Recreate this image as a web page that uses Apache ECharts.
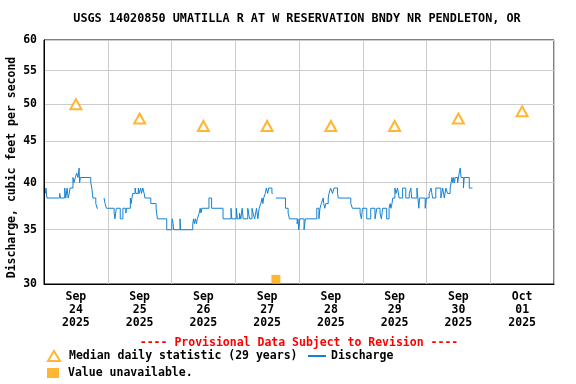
<!DOCTYPE html>
<html><head><meta charset="utf-8">
<script src="https://cdn.jsdelivr.net/npm/echarts@6/dist/echarts.min.js"></script>
<style>html,body{margin:0;padding:0;background:#fff}#c{width:576px;height:384px}</style>
</head><body><div id="c"></div>
<script>
const titleText = 'USGS 14020850 UMATILLA R AT W RESERVATION BNDY NR PENDLETON, OR';
const yAxisTitle = 'Discharge, cubic feet per second';
const provisionalText = '---- Provisional Data Subject to Revision ----';
const legendMedian = 'Median daily statistic (29 years)';
const legendDischarge = 'Discharge';
const legendUnavailable = 'Value unavailable.';

// x: hours since 2025-09-24 00:00
const dayCenters = [12, 36, 60, 84, 108, 132, 156, 180];
const dayLabels = ['Sep\n24\n2025', 'Sep\n25\n2025', 'Sep\n26\n2025', 'Sep\n27\n2025',
                   'Sep\n28\n2025', 'Sep\n29\n2025', 'Sep\n30\n2025', 'Oct\n01\n2025'];
const yTickValues = [30, 35, 40, 45, 50, 55, 60];
const medianValues = [50, 48, 47, 47, 47, 47, 48, 49];

const dischargeHours = [
  0.5, 0.75, 1.1, 5.9, 6.2, 7.8, 8.2, 8.7, 9.1, 9.5, 9.8, 10.9, 11.3, 11.8, 12.3, 12.8, 13.2, 13.4, 13.7,
  17.6, 18.0, 18.4, 19.5, 20.0, 20.3, 20.4,
  22.6, 23.0, 23.5, 26.4, 26.7, 27.0, 27.2, 28.7, 29.7, 30.8, 31.1,
  32.5, 32.8, 33.1, 33.4, 34.3, 34.6, 35.5, 35.8, 36.4, 36.7, 37.2, 37.7, 38.0,
  40.2, 42.2, 42.4, 42.7, 46.2, 48.1, 48.3, 48.6, 48.8, 51.2, 51.4,
  56.0, 56.3, 56.6, 57.0, 57.4, 57.7, 58.4, 58.8, 59.1, 59.4, 62.1, 63.1,
  67.4, 70.4, 70.7, 72.4, 72.8, 73.6, 74.1, 74.6, 75.0, 76.7, 77.4, 78.3, 78.7, 79.3, 80.0, 80.5, 81.0,
  81.6, 82.1, 82.4, 82.7, 83.3, 83.7, 84.2, 84.6, 85.8, 86.1, 86.2,
  87.3, 90.9, 91.9, 92.4, 95.3, 95.6, 95.9, 96.3, 97.9, 98.4,
  102.7, 103.5, 103.9, 104.4, 105.1, 105.3, 105.7, 106.1, 107.0, 107.3, 107.9, 108.6, 109.2, 110.5, 110.8,
  115.5, 116.1, 119.0, 119.5, 119.9, 121.5, 123.0, 124.6, 125.3, 126.5, 127.0, 127.5, 129.0, 129.9,
  130.3, 130.6, 131.0, 131.3, 132.1, 132.5, 133.1, 133.7, 135.0, 136.2, 137.5, 138.1, 138.4,
  140.4, 140.6, 141.1, 141.4, 143.5, 144.0, 145.0, 145.7, 146.3, 147.5, 149.4, 150.1, 150.7, 151.3,
  151.9, 152.9, 153.6, 153.9, 154.2, 154.5, 154.8, 155.7, 156.3, 156.7, 157.0, 157.9, 158.2, 160.1, 161.3
];
const dischargeValues = [
  38.8, 39.4, 38.3, 38.8, 38.3, 39.4, 38.3, 39.4, 38.3, 38.8, 39.4, 40.6, 40.0, 40.6, 41.1, 40.6, 41.7, 40.0, 40.6,
  40.0, 39.4, 38.3, 37.7, 37.2, 37.2, null,
  38.3, 37.7, 37.2, 36.7, 36.1, 36.7, 37.2, 36.1, 37.2, 36.7, 37.2,
  38.3, 37.7, 38.3, 38.8, 39.4, 38.8, 39.4, 38.8, 39.4, 38.8, 39.4, 38.8, 38.3,
  37.7, 37.2, 36.7, 36.1, 35.0, 35.6, 36.1, 35.6, 35.0, 36.1, 35.0,
  35.6, 36.1, 35.6, 36.1, 35.6, 36.1, 36.7, 37.2, 36.7, 37.2, 38.3, 37.2,
  36.1, 37.2, 36.1, 37.2, 36.1, 36.7, 36.1, 37.2, 36.1, 37.2, 36.1, 37.2, 36.7, 36.1, 37.2, 36.1, 37.2,
  37.7, 38.3, 37.7, 38.3, 38.8, 39.4, 38.8, 39.4, 38.8, 38.8, null,
  38.3, 37.2, 36.7, 36.1, 35.6, 36.1, 35.0, 36.1, 35.0, 36.1,
  37.2, 36.1, 37.2, 37.7, 38.3, 37.7, 37.2, 37.7, 38.3, 38.8, 39.4, 38.8, 39.4, 38.8, 38.3,
  37.7, 37.2, 36.7, 36.1, 37.2, 36.1, 37.2, 36.1, 37.2, 36.7, 36.1, 37.2, 36.1, 37.2,
  37.7, 37.2, 37.7, 38.3, 39.4, 38.8, 39.4, 38.3, 39.4, 38.3, 38.8, 39.4, 38.3,
  39.4, 38.8, 37.2, 38.3, 37.2, 38.3, 38.8, 39.4, 38.3, 39.4, 38.3, 39.4, 38.3, 39.4,
  38.8, 39.4, 40.6, 40.0, 40.6, 40.0, 40.6, 40.0, 41.1, 41.7, 40.6, 39.4, 40.6, 39.4, 39.4
];
const unavailableHours = [87.3];
const unavailableValues = [30.4];

const FONT = 'DejaVu Sans Mono';
const lg = v => Math.log10(v);
const legendText = {fontFamily: FONT, fontWeight: 'bold', fontSize: 11.5, color: '#000'};

const chart = echarts.init(document.getElementById('c'), null, {renderer: 'canvas'});
const option = {
  animation: false,
  backgroundColor: '#fff',
  title: [
    {text: titleText, left: 297, top: 13, textAlign: 'center', padding: 0,
     textStyle: {fontFamily: FONT, fontWeight: 'bold', fontSize: 11.8, color: '#000'}},
    {text: provisionalText, left: 299, top: 337, textAlign: 'center', padding: 0,
     textStyle: {fontFamily: FONT, fontWeight: 'bold', fontSize: 11.5, color: '#ff0000'}}
  ],
  grid: {left: 44, right: 22, top: 40, bottom: 100, show: true, borderColor: '#000', borderWidth: 1,
         containLabel: false, outerBoundsMode: 'none'},
  legend: [
    {data: [legendMedian], left: 47, top: 350, padding: 0, itemWidth: 12, itemHeight: 10,
     textStyle: Object.assign({padding: [0, 0, 0, 4]}, legendText)},
    {data: [{name: legendDischarge, itemStyle: {opacity: 0}}], left: 307, top: 350, padding: 0, itemWidth: 18, itemHeight: 10,
     textStyle: legendText},
    {data: [legendUnavailable], left: 47, top: 367, padding: 0, itemWidth: 12, itemHeight: 10,
     textStyle: Object.assign({padding: [0, 0, 0, 4]}, legendText)}
  ],
  xAxis: {
    type: 'value', min: 0, max: 192, interval: 24,
    axisLine: {show: true, lineStyle: {color: '#000', width: 1}},
    axisTick: {show: false},
    splitLine: {show: true, lineStyle: {color: '#cccccc', width: 1}},
    axisLabel: {
      customValues: dayCenters, margin: 7, lineHeight: 13,
      fontFamily: FONT, fontWeight: 'bold', fontSize: 11.5, color: '#000',
      formatter: v => { const i = dayCenters.indexOf(Math.round(v)); return i >= 0 ? dayLabels[i] : ''; }
    }
  },
  yAxis: {
    type: 'value', min: lg(yTickValues[0]), max: lg(yTickValues[yTickValues.length - 1]),
    name: yAxisTitle, nameLocation: 'middle', nameGap: 26, nameMoveOverlap: false,
    nameTextStyle: {fontFamily: FONT, fontWeight: 'bold', fontSize: 11.5, color: '#000', padding: [0, 11, 0, 0]},
    axisLine: {show: true, lineStyle: {color: '#000', width: 1}},
    axisTick: {show: false, customValues: yTickValues.map(lg)},
    splitLine: {show: true, lineStyle: {color: '#cccccc', width: 1}},
    axisLabel: {
      customValues: yTickValues.map(lg), margin: 7,
      fontFamily: FONT, fontWeight: 'bold', fontSize: 11.5, color: '#000',
      formatter: v => String(Math.round(Math.pow(10, v)))
    }
  },
  series: [
    {
      name: legendMedian, type: 'scatter', symbol: 'emptyTriangle', symbolSize: [11, 10],
      itemStyle: {color: '#ffa500', borderWidth: 1},
      data: dayCenters.map((h, i) => [h, lg(medianValues[i])]), z: 3
    },
    {
      name: legendDischarge, type: 'line', step: 'end', symbol: 'none', showSymbol: false,
      lineStyle: {color: '#1482d2', width: 1}, itemStyle: {color: '#1482d2'},
      connectNulls: false,
      data: dischargeHours.map((h, i) => [h, dischargeValues[i] == null ? '-' : lg(dischargeValues[i])]), z: 2
    },
    {
      name: legendUnavailable, type: 'scatter', symbol: 'rect', symbolSize: 9,
      itemStyle: {color: '#ffa500'},
      data: unavailableHours.map((h, i) => [h, lg(unavailableValues[i])]), z: 4
    }
  ]
};
chart.setOption(option);
</script>
</body></html>
